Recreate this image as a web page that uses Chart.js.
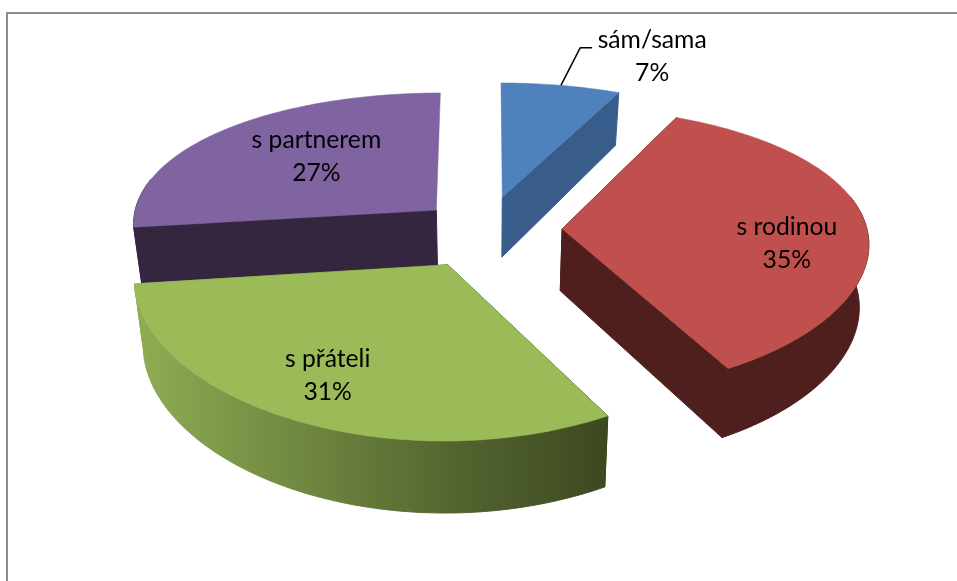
<!DOCTYPE html>
<html><head><meta charset="utf-8">
<style>html,body{margin:0;padding:0;background:#fff}
#wrap{position:relative;width:957px;height:581px;overflow:hidden}
#frame{position:absolute;left:6px;top:12px;width:960px;height:600px;border:2px solid #8c8c8c;box-sizing:border-box}
canvas{position:absolute;left:0;top:0}</style>
<script src="https://cdn.jsdelivr.net/npm/chart.js@4"></script>
</head><body><div id="wrap"><div id="frame"></div><canvas id="c" width="957" height="581"></canvas></div>
<script>
const categories = ['sám/sama', 's rodinou', 's přáteli', 's partnerem'];
const shares = [7, 35, 31, 27];
const explosion = [25, 25, 27, 22];
const topColors = ['#4f81bd', '#c0504d', '#9bbb59', '#8064a2'];
const wallColors = ['#385d8a', '#4e1f1d', null, '#352640'];
const greenWallStops = [[0, '#8fad54'], [0.7, '#52622e'], [1, '#3c4920']];
const paintOrder = [3, 0, 1, 2];
// label placement, polar in the pie plane relative to the slice: radius share, angle shift (deg)
const labelRadius = [1.40, 0.735, 0.75, 0.6];
const labelShift = [11.2, 9.5, 1.2, 4.2];

const view = {sx: 305, sy: 139.5, kx: 0.09, ky: 0.145, depth: 62, depthK: 0.13, shrink: 0.975};

function project(el, u, v) {
  return {x: el.x + view.sx * u / (1 - view.kx * v), y: el.y + view.sy * v / (1 - view.ky * v), v};
}
function lower(el, p) {
  return {x: el.x + (p.x - el.x) * view.shrink, y: p.y + view.depth * (1 + view.depthK * p.v)};
}
function slicePoints(el) {
  const off = el.options.offset / 100, mid = (el.startAngle + el.endAngle) / 2;
  const ox = Math.cos(mid) * off, oy = Math.sin(mid) * off;
  const at = (a, r) => project(el, ox + Math.cos(a) * r, oy + Math.sin(a) * r);
  const arc = [], front = [];
  const n = Math.ceil((el.endAngle - el.startAngle) / (Math.PI / 180));
  for (let i = 0; i <= n; i++) {
    const a = el.startAngle + (el.endAngle - el.startAngle) * i / n;
    const p = at(a, 1);
    arc.push(p);
    if (Math.sin(a) > -0.25) front.push(p);
  }
  return {apex: at(0, 0), arc, front, at, mid};
}
function poly(ctx, pts, fill, lw) {
  ctx.beginPath();
  pts.forEach((p, i) => i ? ctx.lineTo(p.x, p.y) : ctx.moveTo(p.x, p.y));
  ctx.closePath();
  ctx.fillStyle = fill; ctx.fill();
  ctx.strokeStyle = fill; ctx.lineWidth = lw; ctx.stroke();
}
const pie3d = {
  id: 'pie3d',
  beforeDatasetsDraw(chart) {
    const ctx = chart.ctx, meta = chart.getDatasetMeta(0);
    const shapes = meta.data.map(slicePoints);
    ctx.save();
    ctx.lineJoin = 'round';
    paintOrder.forEach(i => {
      const el = meta.data[i], s = shapes[i];
      let wall = wallColors[i];
      if (!wall) {
        const xs = s.arc.map(p => p.x);
        wall = ctx.createLinearGradient(Math.min(...xs), 0, Math.max(...xs), 0);
        greenWallStops.forEach(st => wall.addColorStop(st[0], st[1]));
      }
      if (s.front.length > 1) poly(ctx, s.front.concat(s.front.slice().reverse().map(p => lower(el, p))), wall, 1);
      [[s.arc[0], el.startAngle], [s.arc[s.arc.length - 1], el.endAngle]].forEach(([e, a]) => {
        if (Math.sin(a) > -0.99) poly(ctx, [s.apex, e, lower(el, e), lower(el, s.apex)], wall, 1);
      });
      poly(ctx, [s.apex].concat(s.arc), el.options.backgroundColor, 0.5);
    });
    ctx.fillStyle = '#000';
    ctx.font = '24.7px Lato';
    ctx.textAlign = 'center'; ctx.textBaseline = 'middle';
    meta.data.forEach((el, i) => {
      const s = shapes[i];
      const p = s.at(s.mid + labelShift[i] * Math.PI / 180, labelRadius[i]);
      ctx.fillText(categories[i], p.x, p.y - 16);
      ctx.fillText(shares[i] + '%', p.x, p.y + 17);
      if (labelRadius[i] > 1) {
        const end = s.at(s.mid, 1);
        ctx.beginPath();
        ctx.moveTo(p.x - 60, p.y - 8);
        ctx.lineTo(p.x - 72, p.y - 8);
        ctx.lineTo(end.x, end.y);
        ctx.strokeStyle = '#000'; ctx.lineWidth = 1.5; ctx.stroke();
      }
    });
    ctx.restore();
    return false;
  }
};
new Chart(document.getElementById('c'), {
  type: 'pie',
  data: {labels: categories, datasets: [{data: shares, backgroundColor: topColors, offset: explosion, borderWidth: 0}]},
  options: {
    responsive: false, animation: false, events: [],
    layout: {padding: {left: 15, right: 0, top: 0, bottom: 121}},
    plugins: {legend: {display: false}, tooltip: {enabled: false}}
  },
  plugins: [pie3d]
});
</script></body></html>
